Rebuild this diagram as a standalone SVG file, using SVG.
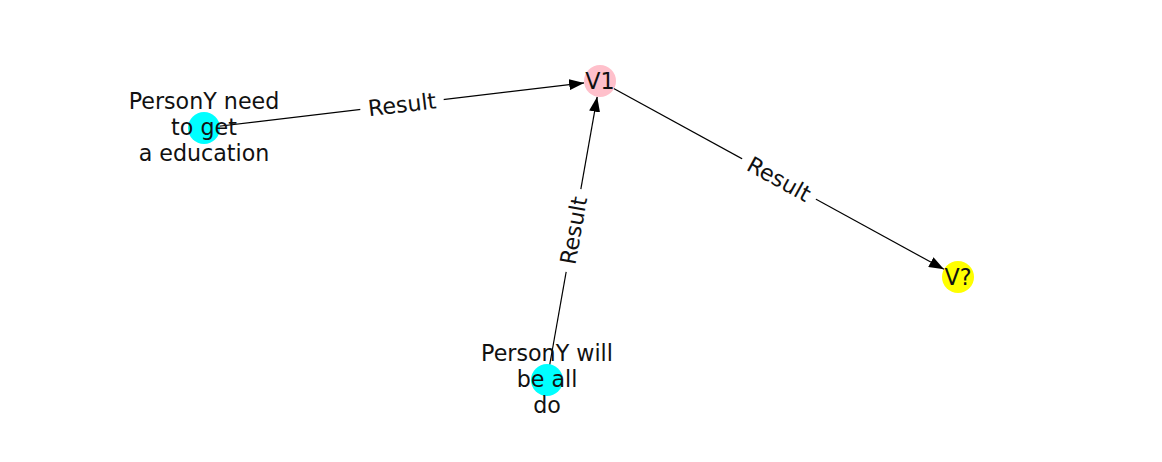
<svg xmlns="http://www.w3.org/2000/svg" width="1162" height="462" viewBox="0 0 1162 462">
<style>
.edge{stroke:#000;stroke-width:1.2;fill:none;marker-end:url(#arr)}
.lbl{font-family:"DejaVu Sans",sans-serif;font-size:22.2px;fill:#111;text-anchor:middle}
.bg{fill:#fff}
</style>
<defs>
<marker id="arr" markerUnits="userSpaceOnUse" markerWidth="15" markerHeight="11" viewBox="0 0 15 11" refX="15" refY="5.5" orient="auto">
<path d="M0,0 L15,5.5 L0,11 z" fill="#000"/>
</marker>
</defs>
<rect width="1162" height="462" fill="#fff"/>
<g id="connectors">
<line class="edge" x1="204" y1="128" x2="584.1" y2="82.9"/>
<line class="edge" x1="600" y1="81" x2="944" y2="269.3"/>
<line class="edge" x1="547" y1="380" x2="597.2" y2="96.8"/>
<g transform="translate(402,104.5) rotate(-6.77)"><rect class="bg" x="-42" y="-15" width="84" height="30" rx="3"/><text class="lbl" y="7.8">Result</text></g>
<g transform="translate(779,179) rotate(28.7)"><rect class="bg" x="-42" y="-15" width="84" height="30" rx="3"/><text class="lbl" y="7.8">Result</text></g>
<g transform="translate(573.5,230.5) rotate(-79.9)"><rect class="bg" x="-42" y="-15" width="84" height="30" rx="3"/><text class="lbl" y="7.8">Result</text></g>
</g>
<g id="node-persony-need">
<circle cx="204" cy="128" r="16" fill="#00FFFF"/>
<text class="lbl" x="204" y="108.5">PersonY need</text>
<text class="lbl" x="204" y="134.5">to get</text>
<text class="lbl" x="204" y="160.5">a education</text>
</g>
<g id="node-v1">
<circle cx="600" cy="81" r="16" fill="#FFC0CB"/>
<text class="lbl" x="600" y="88.5">V1</text>
</g>
<g id="node-vq">
<circle cx="958" cy="277" r="16" fill="#FFFF00"/>
<text class="lbl" x="958" y="284.5">V?</text>
</g>
<g id="node-persony-will">
<circle cx="547" cy="380" r="16" fill="#00FFFF"/>
<text class="lbl" x="547" y="361">PersonY will</text>
<text class="lbl" x="547" y="387">be all</text>
<text class="lbl" x="547" y="413">do</text>
</g>
</svg>
